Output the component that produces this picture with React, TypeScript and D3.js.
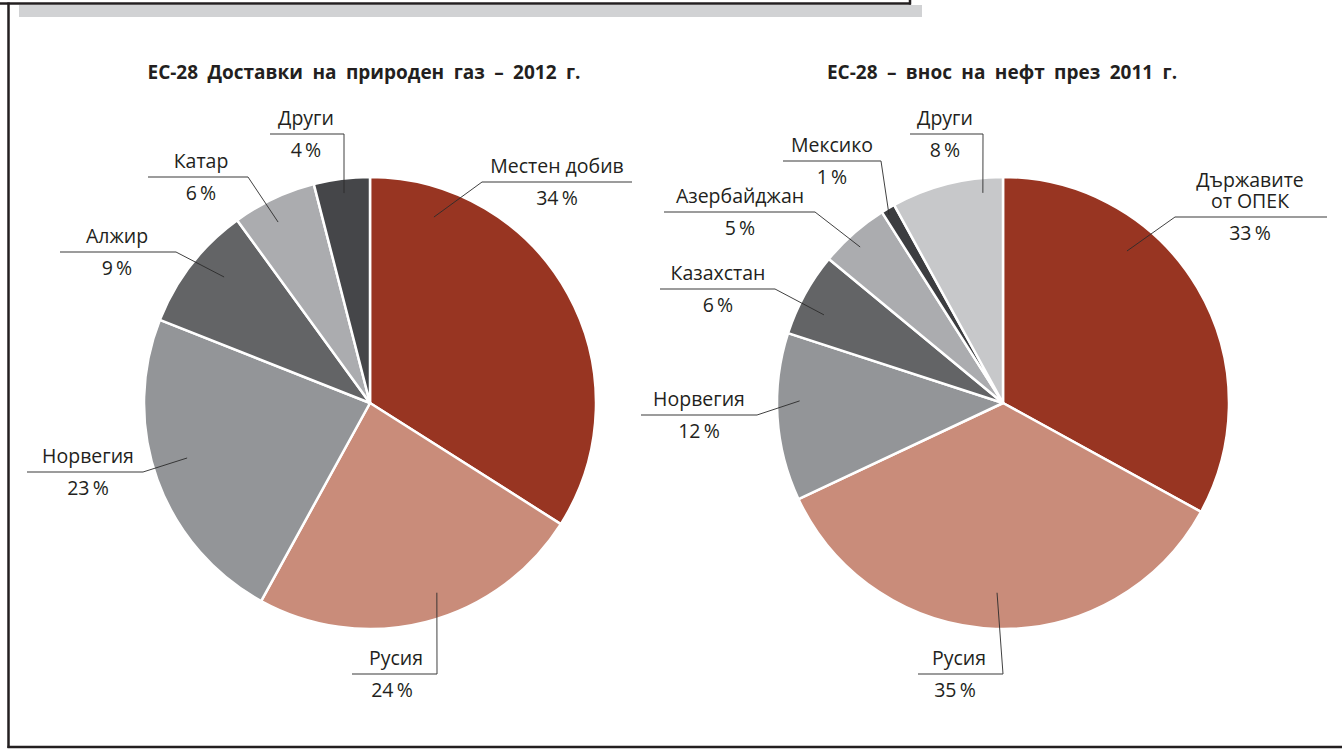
import React from "react";
import * as d3 from "d3";

// ---------- data ----------
const gasTitle = "ЕС-28 Доставки на природен газ – 2012 г.";
const gasCategories = ["Местен добив", "Русия", "Норвегия", "Алжир", "Катар", "Други"];
const gasValues = [34, 24, 23, 9, 6, 4];

const oilTitle = "ЕС-28 – внос на нефт през 2011 г.";
const oilCategories = ["Държавите\nот ОПЕК", "Русия", "Норвегия", "Казахстан", "Азербайджан", "Мексико", "Други"];
const oilValues = [33, 35, 12, 6, 5, 1, 8];

// ---------- styles ----------
const gasColors = ["#983522", "#c98c7a", "#939598", "#636466", "#abacaf", "#454649"];
const oilColors = ["#983522", "#c98c7a", "#939598", "#636466", "#abacaf", "#3c3d40", "#c7c8ca"];

const W = 1342;
const H = 749;
const R = 226;
const FONT = "'Open Sans', 'Noto Sans', sans-serif";
const TEXT = "#231f20";
const LABEL_SIZE = 19.5;

type LabelLayout = {
  t: number; // fraction of slice angle for the leader anchor
  rho: number; // fraction of radius for the leader anchor
  lineY: number;
  x1: number;
  x2: number;
  elbow: "left" | "right";
  textX: number;
  pctX?: number;
};

const gasLayout: LabelLayout[] = [
  { t: 0.155, rho: 0.87, lineY: 182, x1: 482, x2: 632, elbow: "left", textX: 557 },
  { t: 0.442, rho: 0.89, lineY: 674, x1: 352, x2: 437, elbow: "right", textX: 396, pctX: 392 },
  { t: 0.537, rho: 0.845, lineY: 472, x1: 27, x2: 143, elbow: "right", textX: 88 },
  { t: 0.593, rho: 0.853, lineY: 252, x1: 60, x2: 176, elbow: "right", textX: 117 },
  { t: 0.42, rho: 0.898, lineY: 177, x1: 148, x2: 248, elbow: "right", textX: 201 },
  { t: 0.51, rho: 0.936, lineY: 134, x1: 270, x2: 344, elbow: "right", textX: 306 },
];

const oilLayout: LabelLayout[] = [
  { t: 0.33, rho: 0.868, lineY: 217, x1: 1175, x2: 1327, elbow: "left", textX: 1250 },
  { t: 0.5, rho: 0.84, lineY: 674, x1: 918, x2: 1003, elbow: "right", textX: 959, pctX: 955 },
  { t: 0.597, rho: 0.9, lineY: 415, x1: 641, x2: 757, elbow: "right", textX: 699 },
  { t: 0.38, rho: 0.883, lineY: 289, x1: 660, x2: 775, elbow: "right", textX: 718 },
  { t: 0.44, rho: 0.936, lineY: 212, x1: 664, x2: 815, elbow: "right", textX: 740 },
  { t: 0.33, rho: 0.973, lineY: 161, x1: 783, x2: 881, elbow: "right", textX: 832 },
  { t: 0.81, rho: 0.934, lineY: 134, x1: 910, x2: 983, elbow: "right", textX: 945 },
];

const pct = (v: number) => `${v}\u2009%`;

function PieChart(props: {
  cx: number;
  cy: number;
  title: string;
  titleX: number;
  categories: string[];
  values: number[];
  colors: string[];
  layout: LabelLayout[];
}) {
  const { cx, cy, title, titleX, categories, values, colors, layout } = props;
  const arcs = d3
    .pie<number>()
    .sort(null)
    .value((d) => d)(values);
  const arcGen = d3.arc<d3.PieArcDatum<number>>().innerRadius(0).outerRadius(R);

  return (
    <g>
      <text
        x={titleX}
        y={79}
        textAnchor="middle"
        fontFamily={FONT}
        fontWeight={700}
        fontSize={19}
        wordSpacing={4.5}
        fill={TEXT}
      >
        {title}
      </text>
      <g transform={`translate(${cx},${cy})`}>
        {arcs.map((a, i) => (
          <path
            key={i}
            d={arcGen(a) || ""}
            fill={colors[i]}
            stroke="#ffffff"
            strokeWidth={2.5}
            strokeLinejoin="round"
          />
        ))}
      </g>
      {arcs.map((a, i) => {
        const L = layout[i];
        const ang = a.startAngle + L.t * (a.endAngle - a.startAngle);
        const ax = cx + Math.sin(ang) * R * L.rho;
        const ay = cy - Math.cos(ang) * R * L.rho;
        const ex = L.elbow === "left" ? L.x1 : L.x2;
        const names = categories[i].split("\n");
        const firstY = L.lineY - 9 - (names.length - 1) * 21;
        return (
          <g key={"l" + i}>
            <line x1={ax} y1={ay} x2={ex} y2={L.lineY} stroke="#2b2b2b" strokeWidth={0.9} />
            <line x1={L.x1} y1={L.lineY} x2={L.x2} y2={L.lineY} stroke="#3a3a3a" strokeWidth={1.2} />
            <text
              x={L.textX}
              y={firstY}
              textAnchor="middle"
              fontFamily={FONT}
              fontSize={LABEL_SIZE}
              fill={TEXT}
            >
              {names.map((n, k) => (
                <tspan key={k} x={L.textX} dy={k === 0 ? 0 : 21}>
                  {n}
                </tspan>
              ))}
            </text>
            <text
              x={L.pctX ?? L.textX}
              y={L.lineY + 23}
              textAnchor="middle"
              fontFamily={FONT}
              fontSize={LABEL_SIZE}
              fill={TEXT}
            >
              {pct(values[i])}
            </text>
          </g>
        );
      })}
    </g>
  );
}

export default function App() {
  return (
    <svg
      width={W}
      height={H}
      viewBox={`0 0 ${W} ${H}`}
      style={{ position: "absolute", left: 0, top: 0, background: "#ffffff" }}
    >
      {/* frame */}
      <rect x={19} y={5} width={903} height={12} fill="#d1d2d4" />
      <line x1={0} y1={3.5} x2={911} y2={3.5} stroke="#231f20" strokeWidth={2.5} />
      <line x1={910} y1={0} x2={910} y2={4.5} stroke="#231f20" strokeWidth={2.5} />
      <line x1={8.5} y1={2.5} x2={8.5} y2={748} stroke="#231f20" strokeWidth={2.5} />
      <line x1={7.5} y1={747} x2={W} y2={747} stroke="#231f20" strokeWidth={2.5} />

      <PieChart
        cx={370}
        cy={403}
        title={gasTitle}
        titleX={364}
        categories={gasCategories}
        values={gasValues}
        colors={gasColors}
        layout={gasLayout}
      />
      <PieChart
        cx={1003}
        cy={403}
        title={oilTitle}
        titleX={1002}
        categories={oilCategories}
        values={oilValues}
        colors={oilColors}
        layout={oilLayout}
      />
    </svg>
  );
}
